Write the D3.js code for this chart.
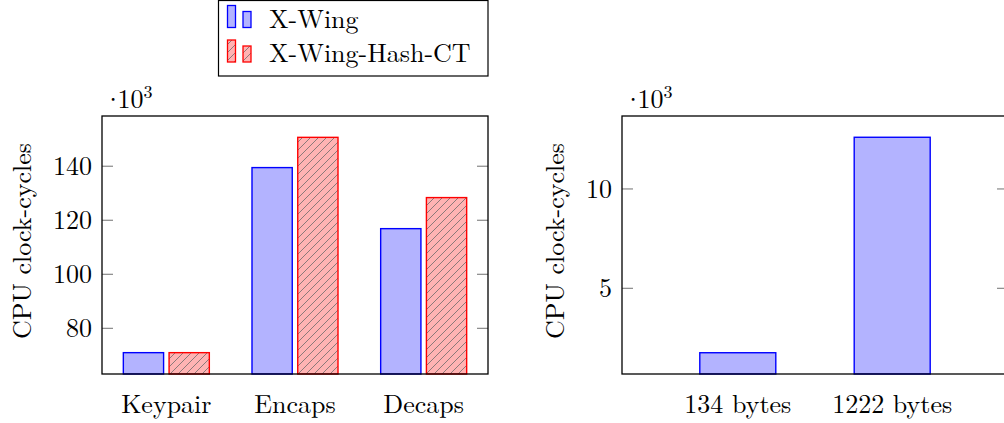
<!DOCTYPE html>
<html>
<head>
<meta charset="utf-8">
<script src="https://cdn.jsdelivr.net/npm/d3@7"></script>
<style>
  html, body { margin: 0; padding: 0; background: #fff; }
  svg { display: block; font-family: "Latin Modern Roman", "CMU Serif", "Liberation Serif", serif; }
</style>
</head>
<body>
<svg id="chart" width="1004" height="423"></svg>
<script>
// --- DATA (values in 10^3 clock-cycles) ---
const opCategories = ["Keypair", "Encaps", "Decaps"];
const xwingOps = [71.0, 139.5, 116.9];
const xwingHashCTOps = [71.0, 150.7, 128.4];
const opTicks = [80, 100, 120, 140];

const sizeCategories = ["134 bytes", "1222 bytes"];
const xwingSizes = [1.76, 12.6];
const sizeTicks = [5, 10];

const seriesNames = ["X-Wing", "X-Wing-Hash-CT"];

// --- STYLE ---
const BLUE = { fill: "#b3b3ff", stroke: "#0000ff" };
const RED = { fill: "#ffb3b3", stroke: "#ff0000" };
const FONT = 26;

const svg = d3.select("#chart");

// hatch pattern (north east lines)
const defs = svg.append("defs");
const pat = defs.append("pattern")
    .attr("id", "hatch")
    .attr("patternUnits", "userSpaceOnUse")
    .attr("width", 8).attr("height", 8);
pat.append("rect").attr("width", 8).attr("height", 8).attr("fill", RED.fill);
pat.append("path")
    .attr("d", "M-1,1 l2,-2 M0,8 l8,-8 M7,9 l2,-2")
    .attr("stroke", "#666").attr("stroke-width", 0.75);

const plotTop = 116, plotBottom = 374;

function drawFrame(g, x0, x1, y, ticks, ylabelX) {
    // ticks inside on both sides
    const tk = g.append("g").attr("stroke", "#888").attr("stroke-width", 1.2);
    ticks.forEach(t => {
        tk.append("line").attr("x1", x0).attr("x2", x0 + 11).attr("y1", y(t)).attr("y2", y(t));
        tk.append("line").attr("x1", x1 - 11).attr("x2", x1).attr("y1", y(t)).attr("y2", y(t));
    });
    g.append("g")
        .attr("font-size", FONT)
        .attr("text-anchor", "end")
        .selectAll("text").data(ticks).join("text")
        .attr("x", x0 - 10)
        .attr("y", d => y(d))
        .attr("dy", "0.34em")
        .text(d => d);

    // multiplier label "·10^3" as one text; tighten the gap after the dot
    const m = g.append("text").attr("y", 107.5).attr("font-size", FONT);
    const dot = m.append("tspan").text("·");
    const dotW = dot.node().getComputedTextLength();
    m.attr("x", x0 + 11 - dotW / 2);
    m.append("tspan").attr("dx", x0 + 15.5 - (x0 + 11 + dotW / 2)).text("10");
    m.append("tspan").attr("font-size", 18).attr("dy", -10).text("3");

    // y label
    g.append("text")
        .attr("transform", `translate(${ylabelX},241) rotate(-90)`)
        .attr("text-anchor", "middle")
        .attr("font-size", FONT)
        .text("CPU clock-cycles");
}

// --- LEFT PLOT ---
{
    const g = svg.append("g");
    const x = d3.scaleBand().domain(opCategories).range([102, 488]).padding(0);
    const y = d3.scaleLinear().domain([63.1, 158.6]).range([plotBottom, plotTop]);
    const sub = d3.scaleBand().domain(seriesNames).range([-43, 43]).paddingInner(0.12);

    const rows = opCategories.map((c, i) => [
        { cat: c, s: seriesNames[0], v: xwingOps[i] },
        { cat: c, s: seriesNames[1], v: xwingHashCTOps[i] }
    ]).flat();

    g.append("g").selectAll("rect").data(rows).join("rect")
        .attr("x", d => x(d.cat) + x.bandwidth() / 2 + sub(d.s))
        .attr("width", sub.bandwidth())
        .attr("y", d => y(d.v))
        .attr("height", d => y.range()[0] - y(d.v))
        .attr("fill", d => d.s === seriesNames[0] ? BLUE.fill : "url(#hatch)")
        .attr("stroke", d => d.s === seriesNames[0] ? BLUE.stroke : RED.stroke)
        .attr("stroke-width", 1.4);

    drawFrame(g, 102, 488, y, opTicks, 31);

    g.append("rect").attr("x", 102).attr("y", plotTop).attr("width", 386).attr("height", plotBottom - plotTop)
        .attr("fill", "none").attr("stroke", "#000").attr("stroke-width", 1.3);

    g.append("g").attr("font-size", FONT).attr("text-anchor", "middle")
        .selectAll("text").data(opCategories).join("text")
        .attr("x", d => x(d) + x.bandwidth() / 2)
        .attr("y", 413)
        .text(d => d);
}

// --- RIGHT PLOT ---
{
    const g = svg.append("g");
    const x = d3.scalePoint().domain(sizeCategories).range([622, 1008]).padding(0.75);
    const y = d3.scaleLinear().domain([0.69, 13.67]).range([plotBottom, plotTop]);
    const bw = 76;

    g.append("g").selectAll("rect").data(sizeCategories.map((c, i) => ({ cat: c, v: xwingSizes[i] }))).join("rect")
        .attr("x", d => x(d.cat) - bw / 2)
        .attr("width", bw)
        .attr("y", d => y(d.v))
        .attr("height", d => y.range()[0] - y(d.v))
        .attr("fill", BLUE.fill)
        .attr("stroke", BLUE.stroke)
        .attr("stroke-width", 1.4);

    drawFrame(g, 622, 1008, y, sizeTicks, 563.5);

    g.append("rect").attr("x", 622).attr("y", plotTop).attr("width", 386).attr("height", plotBottom - plotTop)
        .attr("fill", "none").attr("stroke", "#000").attr("stroke-width", 1.3);

    g.append("g").attr("font-size", FONT).attr("text-anchor", "middle")
        .selectAll("text").data(sizeCategories).join("text")
        .attr("x", d => x(d))
        .attr("y", 413)
        .text(d => d);
}

// --- LEGEND ---
{
    const lg = svg.append("g");
    lg.append("rect").attr("x", 218.5).attr("y", 0.5).attr("width", 269.5).attr("height", 75.5)
        .attr("fill", "#fff").attr("stroke", "#000").attr("stroke-width", 1.2);

    const entries = seriesNames.map((s, i) => ({ name: s, style: i ? RED : BLUE, fill: i ? "url(#hatch)" : BLUE.fill }));
    const rowY = d3.scalePoint().domain(seriesNames).range([27.5, 62]);

    entries.forEach(e => {
        const base = rowY(e.name);
        lg.append("rect").attr("x", 227.5).attr("y", base - 22).attr("width", 8).attr("height", 22)
            .attr("fill", e.fill).attr("stroke", e.style.stroke).attr("stroke-width", 1.3);
        lg.append("rect").attr("x", 243).attr("y", base - 16).attr("width", 8).attr("height", 16)
            .attr("fill", e.fill).attr("stroke", e.style.stroke).attr("stroke-width", 1.3);
        lg.append("text").attr("x", 269).attr("y", base).attr("font-size", FONT).text(e.name);
    });
}
</script>
</body>
</html>
